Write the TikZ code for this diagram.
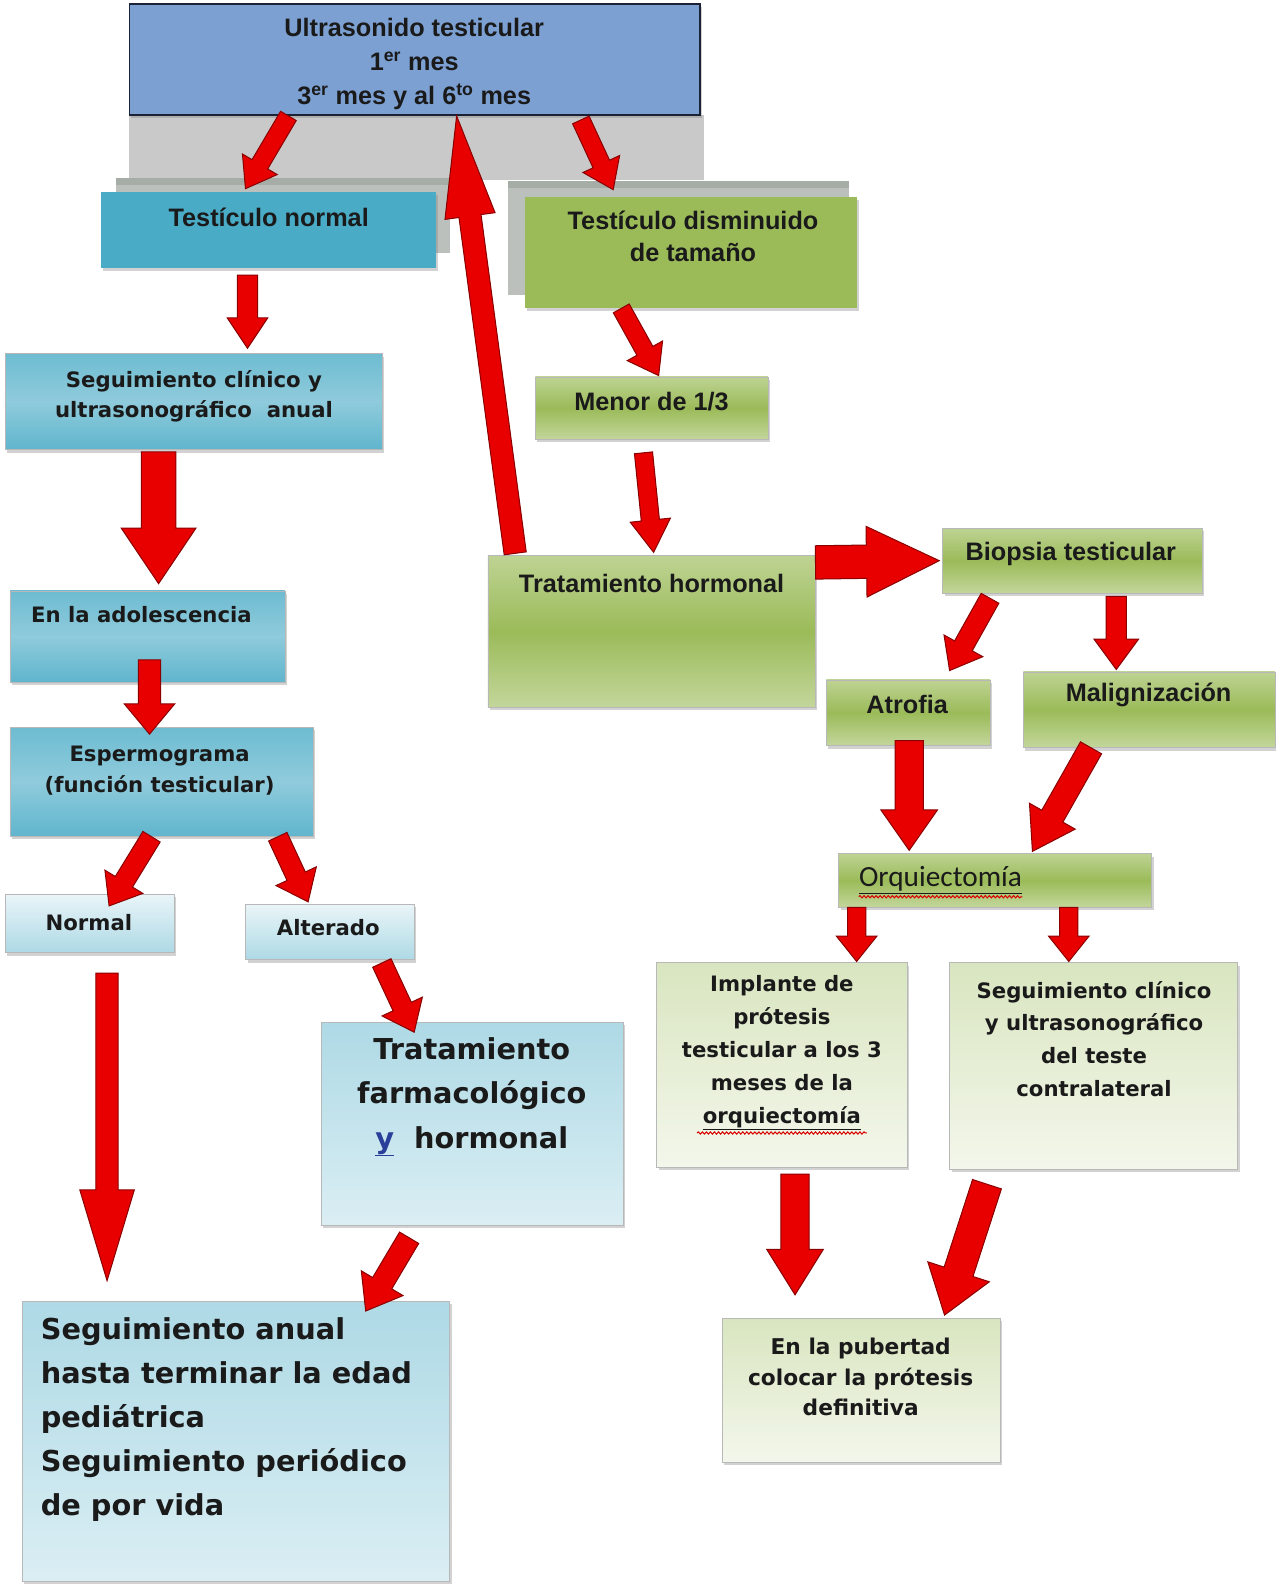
\documentclass[tikz,border=0pt]{standalone}
\usepackage{fontspec}
\setmainfont{Liberation Sans}
\newfontfamily\verdfont{DejaVu Sans}
\newfontfamily\calfont{Carlito}
\usetikzlibrary{calc,shadows,decorations.pathmorphing}

\definecolor{ultrablue}{HTML}{7CA0D2}
\definecolor{ultraline}{HTML}{1B2236}
\definecolor{normteal}{HTML}{4AABC6}
\definecolor{dismgreen}{HTML}{9BBB59}
\definecolor{bandgray}{HTML}{C9C9C9}
\definecolor{bandshade}{HTML}{BCC0BC}
\definecolor{banddark}{HTML}{A6ACA6}
\definecolor{arrowred}{HTML}{E80000}
\definecolor{arrowdark}{HTML}{8A0000}
\definecolor{textdark}{HTML}{1A1A1A}
\definecolor{ylink}{HTML}{2A3F9A}

\tikzset{every picture/.style={line width=0.75pt},
  boxbase/.style={draw=black!28, line width=0.5pt, inner sep=0pt,
    drop shadow={shadow xshift=2pt, shadow yshift=-3pt, opacity=0.35}},
  bluegrad/.style={boxbase, top color=normteal!80, bottom color=normteal!88, middle color=normteal!62},
  palegrad/.style={boxbase, top color=normteal!12, bottom color=normteal!45},
  skygrad/.style={boxbase, top color=normteal!45, bottom color=normteal!20},
  greengrad/.style={boxbase, top color=dismgreen!65, bottom color=dismgreen!60, middle color=dismgreen},
  lightgreen/.style={boxbase, top color=dismgreen!38, bottom color=dismgreen!12},
  arialtext/.style={font=\bfseries\fontsize{25}{33.5}\selectfont, text=textdark, align=center, inner sep=0pt},
  verdtext/.style={font=\verdfont\bfseries\fontsize{21}{30}\selectfont, text=textdark, align=center, inner sep=0pt},
  smalltext/.style={font=\verdfont\bfseries\fontsize{21}{32.5}\selectfont, text=textdark, align=center, inner sep=0pt},
  bigtext/.style={font=\verdfont\bfseries\fontsize{28.5}{43.7}\selectfont, text=textdark, inner sep=0pt},
  arrowblock/.style={fill=arrowred, draw=arrowdark, line width=1pt, line join=miter},
  squiggle/.style={draw=red!85!black, line width=1pt, decorate, decoration={snake, amplitude=1.1pt, segment length=4pt}}
}

% block arrow: start, end, half shaft, half head, head length
\newcommand\blockarrow[5]{%
  \coordinate (ba-s) at #1;
  \coordinate (ba-e) at #2;
  \coordinate (ba-n) at ($(ba-e)!#5!(ba-s)$);
  \filldraw[arrowblock] ($(ba-s)!#3!90:(ba-e)$) -- ($(ba-n)!#3!90:(ba-e)$) -- ($(ba-n)!#4!90:(ba-e)$) -- (ba-e)
    -- ($(ba-n)!#4!-90:(ba-e)$) -- ($(ba-n)!#3!-90:(ba-e)$) -- ($(ba-s)!#3!-90:(ba-e)$) -- cycle;
}

\begin{document}
\begin{tikzpicture}[x=1pt,y=1pt,yscale=-1,xscale=1]
\fill[white] (0,0) rectangle (1263,1568);
\useasboundingbox (0,0) rectangle (1263,1568);

%Shape: gray band under the first box
\fill[bandgray] (128,114) rectangle (697,178);
\fill[bandshade] (115,176) rectangle (445,250);
\fill[banddark] (115,176) rectangle (445,183);
\fill[bandshade] (503,179) rectangle (840,292);
\fill[banddark] (503,179) rectangle (840,186);

%Shape: boxes
\node[boxbase, draw=ultraline, line width=1.5pt, fill=ultrablue, drop shadow={opacity=0}, minimum width=565pt, minimum height=110pt] (ultra) at (410.5,59) {};
\node[boxbase, draw=none, fill=normteal, minimum width=332pt, minimum height=75pt] (tnorm) at (266,227.5) {};
\node[boxbase, draw=none, fill=dismgreen, minimum width=328pt, minimum height=110pt] (tdism) at (684,250) {};
\node[bluegrad, minimum width=373pt, minimum height=95pt] (segui) at (191.5,397.5) {};
\node[greengrad, minimum width=230pt, minimum height=62pt] (menor) at (645,404) {};
\node[bluegrad, minimum width=272pt, minimum height=90pt] (adol) at (146,630) {};
\node[greengrad, minimum width=324pt, minimum height=150pt] (thorm) at (645,625) {};
\node[greengrad, minimum width=257pt, minimum height=64pt] (biop) at (1061.5,555) {};
\node[bluegrad, minimum width=300pt, minimum height=108pt] (esper) at (160,774) {};
\node[greengrad, minimum width=162pt, minimum height=65pt] (atrof) at (899,705.5) {};
\node[greengrad, minimum width=249pt, minimum height=75pt] (malig) at (1137.5,702.5) {};
\node[palegrad, minimum width=167pt, minimum height=58pt] (normal) at (88.5,914) {};
\node[palegrad, minimum width=167pt, minimum height=55pt] (alter) at (326.5,922.5) {};
\node[greengrad, minimum width=310pt, minimum height=53pt] (orq) at (985,871.5) {};
\node[lightgreen, minimum width=248pt, minimum height=202pt] (impl) at (774,1054) {};
\node[lightgreen, minimum width=285pt, minimum height=204pt] (segcon) at (1082.5,1055) {};
\node[skygrad, minimum width=299pt, minimum height=201pt] (tfarm) at (467.5,1112.5) {};
\node[skygrad, minimum width=423pt, minimum height=277pt] (seganual) at (233.5,1426.5) {};
\node[lightgreen, minimum width=275pt, minimum height=142pt] (puber) at (852.5,1376) {};

%Block arrows
\blockarrow{([xshift=-125pt]ultra.south)}{([xshift=-23pt,yshift=-3pt]tnorm.north)}{9pt}{20pt}{28pt}
\blockarrow{([xshift=164.5pt,yshift=4pt]ultra.south)}{([xshift=-77pt,yshift=-7pt]tdism.north)}{9pt}{20pt}{28pt}
\blockarrow{([xshift=-135pt,yshift=-2pt]thorm.north)}{([xshift=41.5pt]ultra.south)}{11pt}{25pt}{100pt}
\blockarrow{([xshift=-21pt,yshift=7pt]tnorm.south)}{([xshift=53.5pt,yshift=-5pt]segui.north)}{10pt}{20pt}{30pt}
\blockarrow{([xshift=-69pt]tdism.south)}{([xshift=7pt,yshift=-1pt]menor.north)}{9pt}{20pt}{28pt}
\blockarrow{([xshift=-8pt,yshift=13pt]menor.south)}{([xshift=2pt,yshift=-3pt]thorm.north)}{9pt}{20pt}{32pt}
\blockarrow{([xshift=-34.5pt,yshift=2pt]segui.south)}{([xshift=11pt,yshift=-7pt]adol.north)}{17pt}{37pt}{55pt}
\blockarrow{([yshift=7pt]thorm.north east)}{([xshift=-3pt]biop.west)}{16.5pt}{35pt}{72pt}
\blockarrow{([xshift=2pt,yshift=-22pt]adol.south)}{([xshift=-12pt,yshift=7pt]esper.north)}{11pt}{25pt}{30pt}
\blockarrow{([xshift=-81.5pt,yshift=5pt]biop.south)}{([xshift=41pt,yshift=-9pt]atrof.north)}{10pt}{22pt}{28pt}
\blockarrow{([xshift=43.5pt,yshift=3pt]biop.south)}{([xshift=-32.5pt,yshift=-2pt]malig.north)}{10pt}{22pt}{30pt}
\blockarrow{([xshift=-10pt]esper.south)}{([xshift=19.5pt,yshift=12pt]normal.north)}{10pt}{22pt}{28pt}
\blockarrow{([xshift=115pt]esper.south)}{([xshift=-21.5pt,yshift=-2pt]alter.north)}{10pt}{22pt}{28pt}
\blockarrow{([xshift=1pt,yshift=-5pt]atrof.south)}{([xshift=-85pt,yshift=-3pt]orq.north)}{14pt}{28pt}{40pt}
\blockarrow{([xshift=-57.5pt]malig.south)}{([xshift=37pt,yshift=-2pt]orq.north)}{12pt}{26pt}{40pt}
\blockarrow{([xshift=17.5pt,yshift=20pt]normal.south)}{([xshift=-127.5pt,yshift=-20pt]seganual.north)}{11pt}{27pt}{90pt}
\blockarrow{([xshift=51.5pt,yshift=3pt]alter.south)}{([xshift=-57.5pt,yshift=10pt]tfarm.north)}{10pt}{22pt}{28pt}
\blockarrow{([xshift=-62.5pt,yshift=12pt]tfarm.south)}{([xshift=128.5pt,yshift=10pt]seganual.north)}{11pt}{24pt}{32pt}
\blockarrow{([xshift=-137pt]orq.south)}{([xshift=74pt,yshift=-1pt]impl.north)}{9pt}{20pt}{25pt}
\blockarrow{([xshift=73pt]orq.south)}{([xshift=-24.5pt,yshift=-1pt]segcon.north)}{9pt}{20pt}{25pt}
\blockarrow{([xshift=13pt,yshift=7pt]impl.south)}{([xshift=-65.5pt,yshift=-23pt]puber.north)}{14pt}{28pt}{45pt}
\blockarrow{([xshift=-105.5pt,yshift=15pt]segcon.south)}{([xshift=82.5pt,yshift=-3pt]puber.north)}{15pt}{32pt}{45pt}

% Text Node
\node[arialtext] (t-ultra) at (410,63.5) {Ultrasonido testicular\\1\textsuperscript{er} mes\\3\textsuperscript{er} mes y al 6\textsuperscript{to} mes};
% Text Node
\node[arialtext] (t-tnorm) at (266,215) {Testículo normal};
% Text Node
\node[arialtext, font=\bfseries\fontsize{25}{32}\selectfont] (t-tdism) at (686,234) {Testículo disminuido\\de tamaño};
% Text Node
\node[verdtext] (t-segui) at (192,392) {Seguimiento clínico y\\ultrasonográfico~ anual};
% Text Node
\node[arialtext] (t-menor) at (645,398) {Menor de 1/3};
% Text Node
\node[verdtext] (t-adol) at (140,608) {En la adolescencia};
% Text Node
\node[arialtext] (t-thorm) at (645,578) {Tratamiento hormonal};
% Text Node
\node[arialtext] (t-biop) at (1060,548) {Biopsia testicular};
% Text Node
\node[verdtext] (t-esper) at (158,763) {Espermograma\\(función testicular)};
% Text Node
\node[arialtext] (t-atrof) at (898,697) {Atrofia};
% Text Node
\node[arialtext] (t-malig) at (1137,688) {Malignización};
% Text Node
\node[verdtext] (t-normal) at (88,913) {Normal};
% Text Node
\node[verdtext] (t-alter) at (325,918) {Alterado};
% Text Node
\node[arialtext, font=\calfont\fontsize{29}{33}\selectfont] (t-orq) at (931,871) {\underline{Orquiectomía}};
\draw[squiggle] ([yshift=3pt]t-orq.south west) -- ([yshift=3pt]t-orq.south east);
% Text Node
\node[smalltext] (t-impl) at (774,1042) {Implante de\\prótesis\\testicular a los 3\\meses de la\\\underline{orquiectomía}};
\draw[squiggle] ([xshift=-84pt,yshift=3pt]t-impl.south) -- ([xshift=84pt,yshift=3pt]t-impl.south);
% Text Node
\node[smalltext] (t-segcon) at (1083,1028.5) {Seguimiento clínico\\y ultrasonográfico\\del teste\\contralateral};
% Text Node
\node[bigtext, align=center] (t-tfarm) at (467,1086) {Tratamiento\\farmacológico\\\textcolor{ylink}{\underline{y}}~ hormonal};
% Text Node
\node[bigtext, align=left, anchor=west] (t-seganual) at (40,1405) {Seguimiento anual\\hasta terminar la edad\\pediátrica\\Seguimiento periódico\\de por vida};
% Text Node
\node[smalltext, font=\verdfont\bfseries\fontsize{21.5}{30}\selectfont] (t-puber) at (852,1363) {En la pubertad\\colocar la prótesis\\definitiva};

\end{tikzpicture}
\end{document}
